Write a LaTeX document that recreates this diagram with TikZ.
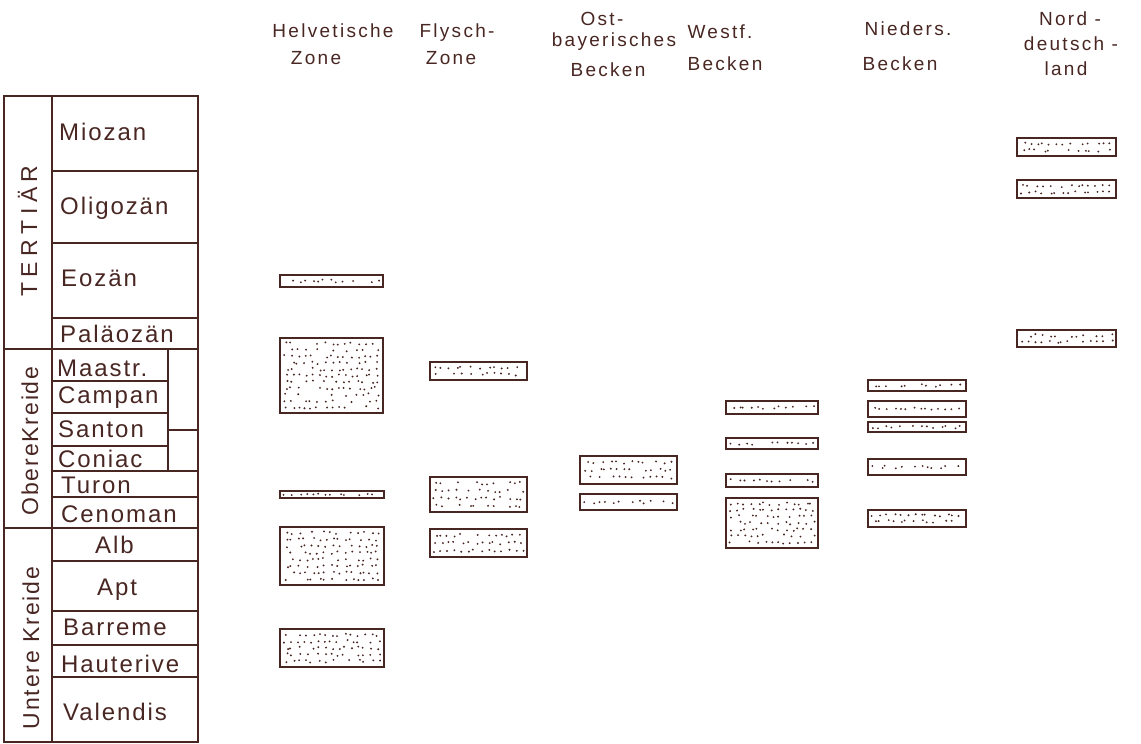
\documentclass[tikz,border=0pt]{standalone}
\usepackage{fontspec}
\setmainfont{Liberation Sans}
\newfontfamily\stagefont[LetterSpace=8]{Liberation Sans}
\newfontfamily\headfont[LetterSpace=12]{Liberation Sans}
\newfontfamily\erawide[LetterSpace=24]{Liberation Sans}
\usepackage{tikz}
\usetikzlibrary{positioning}
\definecolor{ink}{RGB}{72,38,34}

% stippled sand layer: x1 y1 x2 y2 (jittered dot grid)
\newcommand{\sandlayer}[4]{%
  \draw[sandbox] (#1,#2) rectangle (#3,#4);
  \pgfmathtruncatemacro{\ncol}{max(1,(#3-#1-4)/6.4)}
  \pgfmathtruncatemacro{\nrow}{max(1,(#4-#2-4)/6.4)}
  \pgfmathsetmacro{\dx}{(#3-#1-5)/\ncol}
  \pgfmathsetmacro{\dy}{(#4-#2-5)/\nrow}
  \foreach \i in {1,...,\ncol}{
    \foreach \j in {1,...,\nrow}{
      \pgfmathsetmacro{\px}{#1+2.5+(\i-0.5)*\dx+0.4*rand*\dx}
      \pgfmathsetmacro{\py}{#2+2.5+(\j-0.5)*\dy+0.4*rand*min(\dy,3.5)}
      \pgfmathsetmacro{\keep}{rnd}
      \ifdim\keep pt<0.86pt
        \fill[ink] (\px,\py) circle[radius=1.05pt];
      \fi
    }
  }%
}

\begin{document}
\begin{tikzpicture}[
    x=1pt, y=-1pt,
    grid/.style={draw=ink, line width=1.7pt},
    sandbox/.style={draw=ink, line width=2.3pt},
    stage/.style={
        anchor=base west,
        inner sep=0pt,
        text=ink,
        font=\stagefont\fontsize{24}{28}\selectfont
    },
    header/.style={
        anchor=base,
        inner sep=0pt,
        text=ink,
        font=\headfont\fontsize{19}{23}\selectfont
    },
    era/.style={
        anchor=base,
        rotate=90,
        inner sep=0pt,
        text=ink,
        font=\stagefont\fontsize{23}{27}\selectfont
    }
]
\useasboundingbox (0,0) rectangle (1141,744);
\pgfmathsetseed{4711}

% === Stratigraphische Tabelle ===
\draw[grid] (4,96) rectangle (198,742);
\draw[grid] (52,96) -- (52,742);
\draw[grid] (4,349) -- (198,349);
\draw[grid] (4,528) -- (198,528);
\foreach \yy in {171,243,318,471,497,561,611,645,677}
  \draw[grid] (52,\yy) -- (198,\yy);
\foreach \yy in {381,413,446}
  \draw[grid] (52,\yy) -- (168,\yy);
\draw[grid] (168,349) -- (168,471);
\draw[grid] (168,430) -- (198,430);

% === Systeme ===
\node[era, font=\erawide\fontsize{23}{27}\selectfont] (tertiaer) at (37,231) {TERTIÄR};
\node[era] (oberekreide) at (38,441) {ObereKreide};
\node[era] (unterekreide) at (39,648) {Untere Kreide};

% === Stufen ===
\node[stage] (miozan) at (59,140) {Miozan};
\node[stage] (oligozaen) at (60,214) {Oligozän};
\node[stage] (eozaen) at (61,286) {Eozän};
\node[stage] (palaeozaen) at (60,342) {Paläozän};
\node[stage] (maastr) at (57,376) {Maastr.};
\node[stage] (campan) at (58,403) {Campan};
\node[stage] (santon) at (58,437) {Santon};
\node[stage] (coniac) at (58,467) {Coniac};
\node[stage] (turon) at (61,493) {Turon};
\node[stage] (cenoman) at (61,522) {Cenoman};
\node[stage] (alb) at (95,553) {Alb};
\node[stage] (apt) at (97,595) {Apt};
\node[stage] (barreme) at (63,635) {Barreme};
\node[stage] (hauterive) at (61,672) {Hauterive};
\node[stage] (valendis) at (63,720) {Valendis};

% === Spaltenköpfe ===
\node[header] (helvA) at (333,37) {Helvetische};
\node[header] (helvB) at (316,64) {Zone};
\node[header] (flyschA) at (457,37) {Flysch-};
\node[header] (flyschB) at (451,64) {Zone};
\node[header] (ostA) at (602,25) {Ost-};
\node[header] (ostB) at (614,46) {bayerisches};
\node[header] (ostC) at (608,76) {Becken};
\node[header] (westfA) at (720,38) {Westf.};
\node[header] (westfB) at (725,70) {Becken};
\node[header] (niedA) at (908,35) {Nieders.};
\node[header] (niedB) at (900,70) {Becken};
\node[header] (nordA) at (1070,25) {Nord -};
\node[header] (nordB) at (1071,50) {deutsch -};
\node[header] (nordC) at (1066,75) {land};

% === Helvetische Zone ===
\sandlayer{280}{275}{383}{287}
\sandlayer{280}{338}{383}{413}
\sandlayer{280}{491}{384}{498}
\sandlayer{280}{527}{384}{585}
\sandlayer{280}{629}{384}{667}

% === Flysch-Zone ===
\sandlayer{430}{362}{527}{380}
\sandlayer{430}{477}{527}{512}
\sandlayer{430}{529}{527}{557}

% === Ostbayerisches Becken ===
\sandlayer{580}{456}{677}{484}
\sandlayer{580}{494}{677}{510}

% === Westf. Becken ===
\sandlayer{726}{401}{818}{414}
\sandlayer{726}{438}{818}{449}
\sandlayer{726}{474}{818}{487}
\sandlayer{726}{498}{818}{548}

% === Nieders. Becken ===
\sandlayer{868}{380}{966}{391}
\sandlayer{868}{401}{966}{417}
\sandlayer{868}{422}{966}{432}
\sandlayer{868}{459}{966}{475}
\sandlayer{868}{510}{966}{527}

% === Norddeutschland ===
\sandlayer{1017}{138}{1116}{156}
\sandlayer{1017}{180}{1116}{198}
\sandlayer{1017}{330}{1116}{347}

\end{tikzpicture}
\end{document}
